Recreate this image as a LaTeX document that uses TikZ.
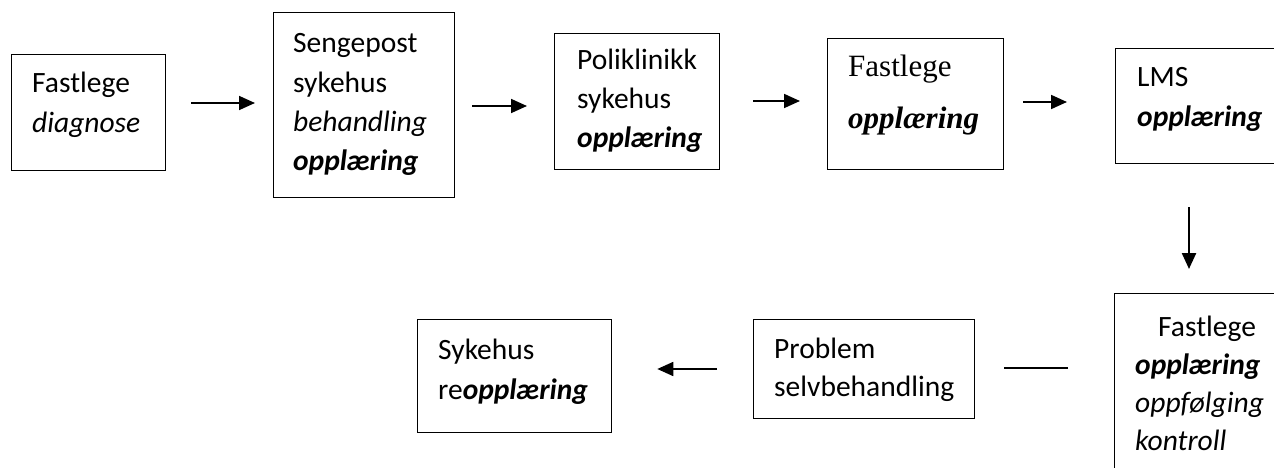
\documentclass[tikz,border=0pt]{standalone}
\usepackage{fontspec}
\setmainfont{Carlito}
\newfontfamily\timesf{Liberation Serif}
\usetikzlibrary{arrows.meta}
\tikzset{
  box/.style={draw, line width=1.3pt, anchor=north west, inner sep=0pt},
  txt/.style={anchor=base west, inner sep=0pt, text width=220pt, align=left,
              font=\fontsize{29.5}{#1}\selectfont},
  ttxt/.style={anchor=base west, inner sep=0pt, text width=220pt, align=left,
              font=\timesf\fontsize{31}{#1}\selectfont},
  arr/.style={line width=1.8pt, -{Triangle[length=16pt,width=14pt]}},
  plain/.style={line width=1.6pt}
}
\newcommand\bi[1]{\textbf{\textit{#1}}}
\begin{document}
\begin{tikzpicture}[x=1pt,y=-1pt]
\useasboundingbox (0,0) rectangle (1274,468);
\clip (0,0) rectangle (1274,468);
% boxes
\node[box, minimum width=154pt, minimum height=116pt] (b1) at (11,54) {};
\node[box, minimum width=181pt, minimum height=185pt] (b2) at (273,12) {};
\node[box, minimum width=165pt, minimum height=136pt] (b3) at (554,33) {};
\node[box, minimum width=176pt, minimum height=131pt] (b4) at (827,38) {};
\node[box, minimum width=170pt, minimum height=115pt] (b5) at (1115,48) {};
\node[box, minimum width=170pt, minimum height=190pt] (b6) at (1114,293) {};
\node[box, minimum width=221pt, minimum height=99pt] (b7) at (753,319) {};
\node[box, minimum width=194pt, minimum height=113pt] (b8) at (417,319) {};
% texts
\node[txt=39.3pt] (t1) at (32,93) {Fastlege\\ \textit{diagnose}};
\node[txt=39.3pt] (t2) at (293,53) {Sengepost\\ sykehus\\ \textit{behandling}\\ \bi{opplæring}};
\node[txt=39pt] (t3) at (577,70) {Poliklinikk\\ sykehus\\ \bi{opplæring}};
\node[ttxt=52pt] (t4) at (848,77) {Fastlege\\ \bi{opplæring}};
\node[txt=40pt] (t5) at (1137,87) {LMS\\ \bi{opplæring}};
\node[txt=38pt] (t6) at (1135,336) {\hspace*{23pt}Fastlege\\ \bi{opplæring}\\ \textit{oppfølging}\\ \textit{kontroll}};
\node[txt=38pt] (t7) at (774,358) {Problem\\ selvbehandling};
\node[txt=40pt] (t8) at (438,359) {Sykehus\\ re\bi{opplæring}};
% connectors
\draw[arr, shorten <=25pt, shorten >=18pt] (b1.east |- 0,103) -- (b2.west |- 0,103);
\draw[arr, shorten <=17pt, shorten >=27pt] (b2.east |- 0,106) -- (b3.west |- 0,106);
\draw[arr, shorten <=33pt, shorten >=27pt] (b3.east |- 0,101) -- (b4.west |- 0,101);
\draw[arr, shorten <=19pt, shorten >=48pt] (b4.east |- 0,102) -- (b5.west |- 0,102);
\draw[arr, line width=2.4pt, shorten <=43pt, shorten >=24pt] (b5.south -| 1189,0) -- (b6.north -| 1189,0);
\draw[plain, shorten <=46pt, shorten >=29pt] (b6.west |- 0,368) -- (b7.east |- 0,368);
\draw[arr, shorten <=36pt, shorten >=45pt] (b7.west |- 0,369) -- (b8.east |- 0,369);
\end{tikzpicture}
\end{document}
